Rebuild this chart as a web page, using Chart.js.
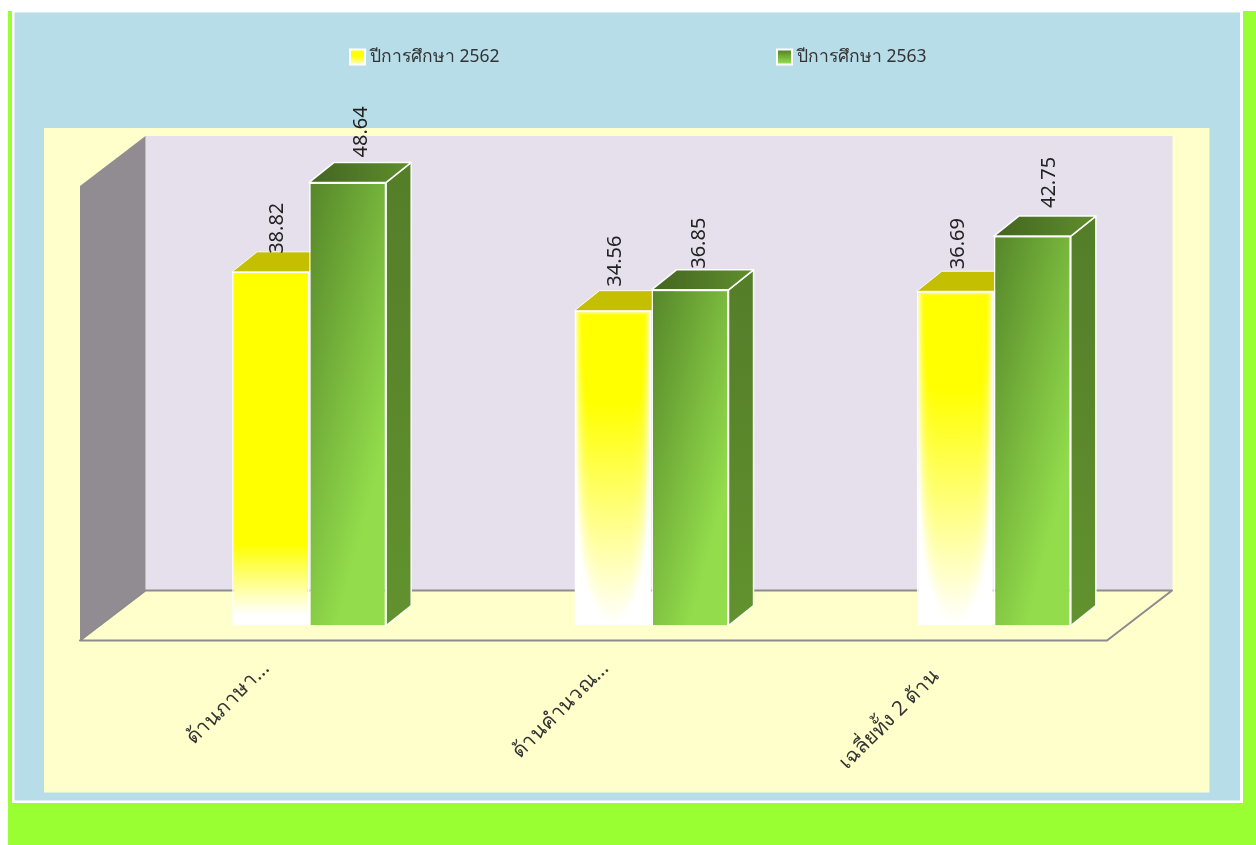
<!DOCTYPE html>
<html>
<head>
<meta charset="utf-8">
<style>html,body{margin:0;padding:0;background:#fff;overflow:hidden}canvas{display:block}</style>
<script src="https://cdn.jsdelivr.net/npm/chart.js@4"></script>
</head>
<body>
<canvas id="c" width="1256" height="845"></canvas>
<script>
const categories = ['ด้านภาษา...', 'ด้านคำนวณ...', 'เฉลี่ยทั้ง 2 ด้าน'];
const seriesNames = ['ปีการศึกษา 2562', 'ปีการศึกษา 2563'];
const values2562 = [38.82, 34.56, 36.69];
const values2563 = [48.64, 36.85, 42.75];

const FONT = '"Noto Sans","Open Sans",sans-serif';
const DEPTH_X = 25, DEPTH_Y = 20;          // bar depth
const WALL_X = 65, WALL_Y = 50;            // chart box depth
const CAT_PCT = 0.45;

// small nudges seen in the reference's rotated value labels, by [series][category]
const labelDx = [[7, 2, 3], [14, 9, 17]];
const labelDy = [[-18, -24, -22], [-25, -21, -28]];
// per-tick nudges of the rotated category labels
const tickDx = [0, -3, -15];
const tickDy = [0, 0, 8];

const patternCache = {};
function yellowPattern(ctx, w, h, linear) {
  w = Math.max(2, Math.round(w)); h = Math.max(2, Math.round(h));
  const key = [w, h, linear].join('_');
  if (!patternCache[key]) {
    const off = document.createElement('canvas');
    off.width = w; off.height = h;
    const g = off.getContext('2d');
    const img = g.createImageData(w, h);
    for (let py = 0; py < h; py++) for (let px = 0; px < w; px++) {
      const v = py / (h - 1), u = Math.abs(px - (w - 1) / 2) / ((w - 1) / 2);
      let white;
      if (linear) {
        white = Math.min(1, Math.max(0, (v - 0.77) / 0.2));
      } else {
        const wv = Math.max(0, (v - 0.12) / 0.88);
        const s = Math.sqrt(Math.pow(u, 16 - 14 * v) + wv * wv);
        white = Math.min(1, Math.max(0, (s - 0.2) / 0.8));
        white = Math.max(white, Math.max(0, 1 - py / 4) * 0.6);
      }
      const i = (py * w + px) * 4;
      img.data[i] = 255; img.data[i + 1] = 255;
      img.data[i + 2] = Math.round(255 * white); img.data[i + 3] = 255;
    }
    g.putImageData(img, 0, 0);
    patternCache[key] = off;
  }
  return ctx.createPattern(patternCache[key], 'no-repeat');
}

function barBox(chart, ds, i) {
  const x = chart.scales.x, y = chart.scales.y;
  if (!x || !y) return null;
  const bw = x.width / categories.length * CAT_PCT / 2;
  const cx = x.getPixelForValue(i);
  const left = ds === 0 ? cx - bw : cx;
  const top = y.getPixelForValue(chart.data.datasets[ds].data[i]);
  const base = y.getPixelForValue(0);
  if (![bw, left, top, base].every(Number.isFinite)) return null;
  return {left, top, base, w: bw, h: base - top};
}

function yellowFill(c) {
  if (c.type !== 'data') return '#ffff00';
  const b = barBox(c.chart, 0, c.dataIndex);
  if (!b) return '#ffff00';
  const p = yellowPattern(c.chart.ctx, b.w, b.h, c.dataIndex === 0);
  p.setTransform(new DOMMatrix().translate(b.left, b.top));
  return p;
}
function greenFill(c) {
  if (c.type !== 'data') return '#7fc03c';
  const b = barBox(c.chart, 1, c.dataIndex);
  if (!b) return '#7fc03c';
  const len = 70 + 0.16 * b.h;
  const g = c.chart.ctx.createLinearGradient(b.left, b.top, b.left + len * 0.966, b.top + len * 0.256);
  g.addColorStop(0, '#558529');
  g.addColorStop(1, '#93dd4c');
  return g;
}

function poly(ctx, pts, fill, stroke, lw) {
  ctx.beginPath();
  pts.forEach((p, i) => i ? ctx.lineTo(p[0], p[1]) : ctx.moveTo(p[0], p[1]));
  ctx.closePath();
  if (fill) { ctx.fillStyle = fill; ctx.fill(); }
  if (stroke) { ctx.strokeStyle = stroke; ctx.lineWidth = lw || 1; ctx.lineJoin = 'round'; ctx.stroke(); }
}

const scene = {
  id: 'scene',
  beforeDraw(chart) {
    const c = chart.ctx;
    c.save();
    c.fillStyle = '#99ff33'; c.fillRect(8, 11, 1248, 834);
    c.fillStyle = '#ffffff'; c.fillRect(12, 11, 1231, 792);
    c.fillStyle = '#b7dde8'; c.fillRect(14.5, 12.5, 1225.5, 788);
    c.fillStyle = '#ffffcc'; c.fillRect(44, 128, 1165.5, 664.5);
    c.restore();
    const items = chart.scales.x.getLabelItems(chart.chartArea);
    items.forEach((it, i) => {
      if (it._nudged) return;
      it._nudged = true;
      it.options.translation = [it.options.translation[0] + tickDx[i], it.options.translation[1] + tickDy[i]];
    });
  },
  beforeDatasetsDraw(chart) {
    const c = chart.ctx, a = chart.chartArea;
    const fl = a.left - 58, fr = fl + 1027, fb = 640.5, ft = 186;
    c.save();
    // back wall
    c.fillStyle = '#e6e0ec';
    c.fillRect(fl + WALL_X + 0.5, ft - WALL_Y, fr - fl, fb - ft);
    // left wall
    poly(c, [[fl, ft], [fl + WALL_X + 0.5, ft - WALL_Y], [fl + WALL_X + 0.5, fb - WALL_Y], [fl, fb]], '#908c92');
    // floor
    poly(c, [[fl, fb], [fl + WALL_X + 0.5, fb - WALL_Y], [fr + WALL_X, fb - WALL_Y], [fr, fb]], '#ffffcc', '#8d8b8d', 2);
    // bar sides and tops
    [0, 1].forEach(ds => {
      chart.getDatasetMeta(ds).data.forEach(el => {
        const l = el.x - el.width / 2, r = el.x + el.width / 2, t = el.y, b = el.base;
        const dx = DEPTH_X, dy = DEPTH_Y;
        if (ds === 1) {
          const gs = c.createLinearGradient(0, t, 0, b);
          gs.addColorStop(0, '#557e29'); gs.addColorStop(1, '#62922e');
          poly(c, [[r, t], [r + dx, t - dy], [r + dx, b - dy], [r, b]], gs, 'rgba(255,255,255,0.95)', 1.5);
          const gt = c.createLinearGradient(l, t, r + dx, t);
          gt.addColorStop(0, '#436520'); gt.addColorStop(1, '#5f8e2d');
          poly(c, [[l, t], [l + dx, t - dy], [r + dx, t - dy], [r, t]], gt, 'rgba(255,255,255,0.95)', 1.5);
        } else {
          poly(c, [[l, t], [l + dx, t - dy], [r + dx, t - dy], [r, t]], '#c4bf00', 'rgba(255,255,255,0.9)', 1);
        }
      });
    });
    c.restore();
  },
  afterDraw(chart) {
    const c = chart.ctx;
    c.save();
    // rotated value labels
    c.fillStyle = '#222222';
    c.font = '20px ' + FONT;
    c.textAlign = 'left'; c.textBaseline = 'middle';
    chart.data.datasets.forEach((d, ds) => {
      chart.getDatasetMeta(ds).data.forEach((el, i) => {
        c.save();
        c.translate(el.x + labelDx[ds][i], el.y + labelDy[ds][i]);
        c.rotate(-Math.PI / 2);
        c.fillText(d.data[i].toFixed(2), 0, 0);
        c.restore();
      });
    });
    // legend
    const lx = [349, 776];
    chart.data.datasets.forEach((d, ds) => {
      const x = lx[ds], y = 48.5;
      c.fillStyle = '#ffffff'; c.fillRect(x, y, 17, 17);
      const g = c.createLinearGradient(0, y + 2, 0, y + 15);
      if (ds === 0) { g.addColorStop(0, '#ffff00'); g.addColorStop(0.45, '#ffff00'); g.addColorStop(1, '#ffffb0'); }
      else { g.addColorStop(0, '#558529'); g.addColorStop(1, '#93dd4c'); }
      c.fillStyle = g; c.fillRect(x + 2, y + 2, 13, 13);
      c.fillStyle = '#333333';
      c.font = '17.5px ' + FONT;
      c.textAlign = 'left'; c.textBaseline = 'middle';
      c.fillText(d.label, x + 21, 57.5);
    });
    c.restore();
  }
};

new Chart(document.getElementById('c'), {
  type: 'bar',
  data: {
    labels: categories,
    datasets: [
      {label: seriesNames[0], data: values2562, backgroundColor: yellowFill, borderColor: 'rgba(255,255,255,0.95)', borderWidth: 1.5},
      {label: seriesNames[1], data: values2563, backgroundColor: greenFill, borderColor: 'rgba(255,255,255,0.95)', borderWidth: 1.5}
    ]
  },
  plugins: [scene],
  options: {
    responsive: false,
    animation: false,
    devicePixelRatio: 1,
    layout: {padding: {left: 138, right: 91, top: 170, bottom: 0}},
    datasets: {bar: {categoryPercentage: CAT_PCT, barPercentage: 1}},
    plugins: {legend: {display: false}, tooltip: {enabled: false}},
    scales: {
      y: {display: false, min: 0, max: 50},
      x: {
        grid: {display: false},
        border: {display: false},
        afterFit(s) { s.height = 219.5; },
        ticks: {
          autoSkip: false, minRotation: 45, maxRotation: 45,
          labelOffset: -43, padding: 23,
          color: '#333333',
          font: {family: FONT, size: 20.5}
        }
      }
    }
  }
});
</script>
</body>
</html>
